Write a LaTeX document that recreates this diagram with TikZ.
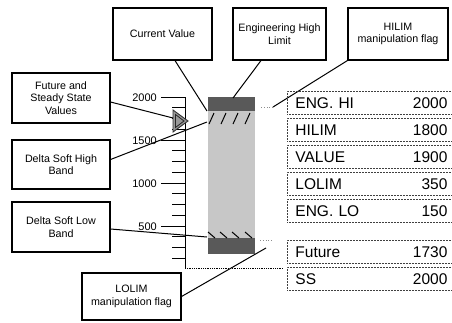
\documentclass[tikz,border=0pt]{standalone}
\usepackage{fontspec}
\setmainfont{Liberation Sans}
\usetikzlibrary{calc}
\tikzset{
	callout/.style={draw, line width=1.1pt, align=center, inner sep=2pt,
		font=\fontsize{10.7}{12.5}\selectfont},
	lead/.style={line width=1pt},
	row/.style={draw=black!75, dash pattern=on 0.8pt off 0.7pt, line width=0.9pt,
		anchor=north west, minimum height=22.5pt, text width=152pt,
		inner xsep=8pt, inner ysep=0pt, font=\fontsize{15.5}{18}\selectfont},
	scaletick/.style={line width=0.8pt},
	ticklbl/.style={anchor=east, inner sep=0pt, font=\fontsize{11}{13}\selectfont},
	limband/.style={fill=black!65},
	okband/.style={fill=black!22},
	flagdot/.style={dotted, black!45, line width=0.8pt},
}

\begin{document}
\begin{tikzpicture}[x=1pt, y=-1pt]
	\useasboundingbox (0,0) rectangle (452,322);
	% callout boxes
	\node[callout, minimum width=99pt, minimum height=52pt] at (162.5,34) (cur) {Current Value};
	\node[callout, minimum width=93pt, minimum height=52pt] at (279.5,34) (eng) {Engineering High\\Limit};
	\node[callout, minimum width=100pt, minimum height=52pt] at (398,34) (hil) {HILIM\\manipulation flag};
	\node[callout, minimum width=98pt, minimum height=50pt] at (61,98) (fut) {Future and\\Steady State\\Values};
	\node[callout, minimum width=98pt, minimum height=49pt] at (61,164.5) (dsh) {Delta Soft High\\Band};
	\node[callout, minimum width=98pt, minimum height=50pt] at (61,227) (dsl) {Delta Soft Low\\Band};
	\node[callout, minimum width=99pt, minimum height=47pt] at (131.5,296.5) (lol) {LOLIM\\manipulation flag};
	% scale
	\draw[line width=0.8pt] (185,97) -- (185,268);
	\draw[line width=0.8pt, densely dotted] (185,268) -- (283,268);
	\foreach \v in {125,250,...,2000}
		\draw[scaletick] (172,{269-0.086*\v}) -- (185,{269-0.086*\v});
	\foreach \v in {500,1000,1500,2000}
		\draw[scaletick] (161,{269-0.086*\v}) -- (172,{269-0.086*\v});
	\node[ticklbl] at (157,97.5) (s2000) {2000};
	\node[ticklbl] at (157,141) (s1500) {1500};
	\node[ticklbl] at (157,184) (s1000) {1000};
	\node[ticklbl] at (157,226.5) (s500) {500};
	% bar
	\fill[okband] (208,111) rectangle (255,238);
	\fill[limband] (208,97) rectangle (255,111);
	\fill[limband] (208,238) rectangle (255,254);
	\foreach \x in {209,221,233,245}
		\draw[line width=1pt] (\x,124) -- (\x+5,113);
	\foreach \x in {208,220,232,245}
		\draw[line width=1pt] (\x,232) -- (\x+7,238);
	% future marker
	\draw[line width=0.9pt, black!80, fill=black!40] (173,110) -- (188,121) -- (173,132) -- cycle;
	\draw[line width=0.8pt, black!85] (175.5,114.5) -- (184,121) -- (175.5,127.5) -- cycle;
	% leader ends
	\coordinate (cvpt) at (207,111);
	\coordinate (ehpt) at (233,98);
	\coordinate (hfpt) at (273,107);
	\coordinate (fmk) at (173,118);
	\coordinate (dshpt) at (207,122);
	\coordinate (dslpt) at (207,237);
	\coordinate (lolpt) at (266,248);
	\draw[lead] ([xshift=12.5pt]cur.south) -- (cvpt);
	\draw[lead] ([xshift=-18.5pt]eng.south) -- (ehpt);
	\draw[lead] (hil.south west) -- (hfpt);
	\draw[lead] ([yshift=-4pt]fut.east) -- (fmk);
	\draw[lead] ([yshift=5pt]dsh.east) -- (dshpt);
	\draw[lead] ([yshift=-2pt]dsl.east) -- (dslpt);
	\draw[lead] (lol.east) -- (lolpt);
	\draw[flagdot] (hfpt) -- ++(-12,0);
	\draw[flagdot] (260,240) -- (273,240);
	% value table
	\node[row] at (287,91) (reh) {ENG. HI\hfill 2000};
	\node[row] at (287,118) (rhi) {HILIM\hfill 1800};
	\node[row] at (287,145) (rval) {VALUE\hfill 1900};
	\node[row] at (287,172) (rlo) {LOLIM\hfill 350};
	\node[row] at (287,199) (rel) {ENG. LO\hfill 150};
	\node[row] at (287,240) (rfut) {Future\hfill 1730};
	\node[row] at (287,267) (rss) {SS\hfill 2000};
\end{tikzpicture}
\end{document}
